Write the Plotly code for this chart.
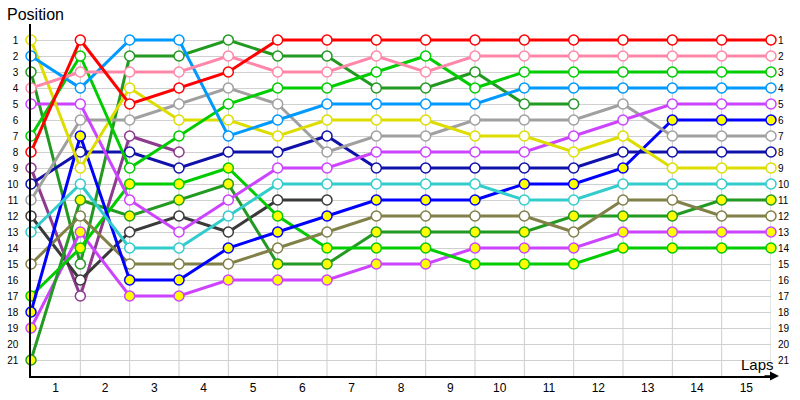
import plotly.graph_objects as go

# ---------------- data ----------------
laps = list(range(16))
positions = list(range(1, 22))
x_tick_vals = [i - 0.5 for i in range(1, 16)]
x_tick_text = [str(i) for i in range(1, 16)]

red = [8, 1, 5, 4, 3, 1, 1, 1, 1, 1, 1, 1, 1, 1, 1, 1]
pink = [4, 3, 3, 3, 2, 3, 3, 2, 3, 2, 2, 2, 2, 2, 2, 2]
sky_blue = [2, 4, 1, 1, 7, 6, 5, 5, 5, 5, 4, 4, 4, 4, 4, 4]
dark_green = [3, 15, 2, 2, 1, 2, 2, 4, 4, 3, 5, 5]
green = [7, 2, 9, 7, 5, 4, 4, 3, 2, 4, 3, 3, 3, 3, 3, 3]
yellow = [1, 9, 4, 6, 6, 7, 6, 6, 6, 7, 7, 8, 7, 9, 9, 9]
violet = [5, 5, 11, 13, 11, 9, 9, 8, 8, 8, 8, 7, 6, 5, 5, 5]
grey = [11, 6, 6, 5, 4, 5, 8, 7, 7, 6, 6, 6, 5, 7, 7, 7]
navy = [10, 8, 8, 9, 8, 8, 7, 9, 9, 9, 9, 9, 8, 8, 8, 8]
plum = [9, 17, 7, 8]
cyan = [13, 10, 14, 14, 12, 10, 10, 10, 10, 10, 11, 11, 10, 10, 10, 10]
charcoal = [12, 16, 13, 12, 13, 11, 11]
olive = [15, 12, 15, 15, 15, 14, 13, 12, 12, 12, 12, 13, 11, 11, 12, 12]
green_b = [17, 14, 10, 10, 9, 12, 14, 14, 14, 15, 15, 15, 14, 14, 14, 14]
dark_green_b = [21, 11, 12, 11, 10, 15, 15, 13, 13, 13, 13, 12, 12, 12, 11, 11]
blue_b = [18, 7, 16, 16, 14, 13, 12, 11, 11, 11, 10, 10, 9, 6, 6, 6]
violet_b = [19, 13, 17, 17, 16, 16, 16, 15, 15, 14, 14, 14, 13, 13, 13, 13]

# ---------------- styling ----------------
WHITE = "#FFFFFF"
YEL = "#FFFF00"
series = [
    ("plum", plum, "#8E3A8E", WHITE),
    ("charcoal", charcoal, "#3A3A3A", WHITE),
    ("dark_green", dark_green, "#229A22", WHITE),
    ("violet_b", violet_b, "#CC44FF", YEL),
    ("dark_green_b", dark_green_b, "#229A22", YEL),
    ("green_b", green_b, "#00CC00", YEL),
    ("olive", olive, "#808048", WHITE),
    ("blue_b", blue_b, "#0000FF", YEL),
    ("cyan", cyan, "#33CCCC", WHITE),
    ("navy", navy, "#1010AA", WHITE),
    ("grey", grey, "#A0A0A0", WHITE),
    ("violet", violet, "#CC44FF", WHITE),
    ("yellow", yellow, "#DDDD00", WHITE),
    ("green", green, "#00CC00", WHITE),
    ("sky_blue", sky_blue, "#0099FF", WHITE),
    ("pink", pink, "#FF88AA", WHITE),
    ("red", red, "#FF0000", WHITE),
]

fig = go.Figure()
for name, vals, col, fill in series:
    fig.add_trace(go.Scatter(
        x=laps[:len(vals)], y=vals, name=name, mode="lines+markers",
        line=dict(color=col, width=3),
        marker=dict(size=10, color=fill, line=dict(color=col, width=1.5)),
        cliponaxis=False, showlegend=False,
    ))

# dummy trace for right-hand axis
fig.add_trace(go.Scatter(x=[0], y=[1], yaxis="y2", mode="markers",
                         marker=dict(opacity=0), showlegend=False, hoverinfo="skip"))

shapes = []
for lap in laps[1:]:
    shapes.append(dict(type="line", xref="x", yref="y", x0=lap, x1=lap, y0=0.7, y1=22,
                       line=dict(color="#CCCCCC", width=1), layer="below"))

FONT = "Liberation Sans"
fig.update_layout(
    width=800, height=400,
    margin=dict(l=31, r=29, t=24, b=24, autoexpand=False),
    paper_bgcolor="white", plot_bgcolor="white",
    font=dict(family=FONT, color="black"),
    shapes=shapes,
    xaxis=dict(range=[0, 15], tickvals=x_tick_vals, ticktext=x_tick_text,
               showgrid=False, zeroline=False, showline=True, linecolor="black",
               linewidth=1.5, ticks="", tickfont=dict(size=12, family=FONT),
               automargin=False),
    yaxis=dict(range=[22, 0], tickvals=positions, ticktext=[str(p) for p in positions],
               showgrid=True, gridcolor="#D0D0D0", gridwidth=1, zeroline=False,
               showline=True, linecolor="black", linewidth=1.5,
               ticks="outside", ticklen=9, tickcolor="rgba(0,0,0,0)",
               tickfont=dict(size=10, family=FONT), automargin=False),
    yaxis2=dict(range=[22, 0], overlaying="y", side="right", tickvals=positions,
                ticktext=[str(p) for p in positions], showgrid=False, zeroline=False,
                showline=False, ticks="outside", ticklen=4, tickcolor="rgba(0,0,0,0)",
                tickfont=dict(size=10, family=FONT), automargin=False),
    annotations=[
        dict(text="Position", xref="paper", yref="paper", x=-0.0351, y=1.0256,
             xanchor="left", yanchor="middle", showarrow=False,
             font=dict(size=16, family=FONT)),
        dict(text="Laps", xref="paper", yref="paper", x=0.982, y=0.034,
             xanchor="center", yanchor="middle", showarrow=False,
             font=dict(size=15, family=FONT)),
        dict(text="", xref="paper", yref="paper", x=1.0108, y=0, ax=-16, ay=0,
             showarrow=True, arrowhead=2, arrowsize=1.2, arrowwidth=1.5, arrowcolor="black"),
        dict(text="", xref="paper", yref="paper", x=0, y=1.0, ax=0, ay=0.01,
             showarrow=True, arrowhead=6, arrowsize=1.5, arrowwidth=1.5, arrowcolor="black"),
    ],
)

fig.write_html("out.html", config={"displayModeBar": False},
               post_script="document.body.style.margin='0';document.body.style.padding='0';")
